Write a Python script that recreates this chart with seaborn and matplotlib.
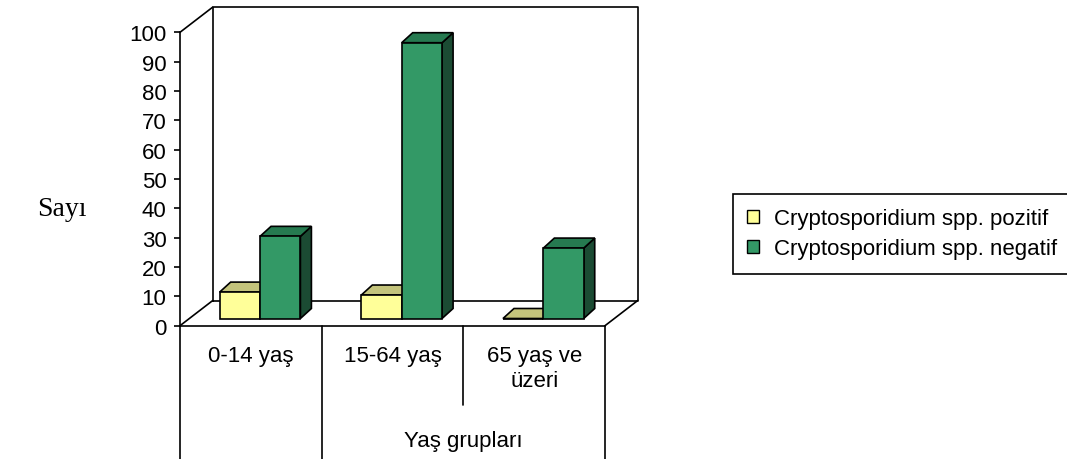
import matplotlib
matplotlib.use("Agg")
import numpy as np
import pandas as pd
import matplotlib.pyplot as plt
import matplotlib.transforms as mtransforms
from matplotlib.patches import Polygon, Patch
import seaborn as sns

# ---- data -------------------------------------------------------------
categories = ["0-14 yaş", "15-64 yaş", "65 yaş ve\nüzeri"]
series_names = ["Cryptosporidium spp. pozitif", "Cryptosporidium spp. negatif"]
pozitif = [9, 8, 0]
negatif = [28, 94, 24]
y_ticks = list(range(0, 101, 10))
x_title = "Yaş grupları"
y_title = "Sayı"

# ---- colours: front, top and side faces of the 3-D columns --------------
front_colors = ["#FFFF99", "#339966"]
top_colors = ["#C4C47C", "#267A50"]
side_colors = ["#8C8C5A", "#1B4B33"]

df = pd.DataFrame({
    "Yaş grubu": categories * 2,
    "Sayı": pozitif + negatif,
    "Seri": [series_names[0]] * len(categories) + [series_names[1]] * len(categories),
})

sns.set_style("white")
plt.rcParams["font.family"] = ["Liberation Sans", "DejaVu Sans"]
plt.rcParams.update({"text.color": "black", "axes.labelcolor": "black",
                     "xtick.color": "black", "ytick.color": "black"})
FS = 16
LW = 1.2

W, H, DPI = 1067, 460, 100
fig = plt.figure(figsize=(W / DPI, H / DPI), dpi=DPI)
fig.patch.set_facecolor("white")

# front plane of the chart box (figure pixels, measured from the top)
left_px, right_px, base_px, top_px = 180, 605, 326.7, 33.3
ax = fig.add_axes([left_px / W, (H - base_px) / H,
                   (right_px - left_px) / W, (base_px - top_px) / H])

sns.barplot(data=df, x="Yaş grubu", y="Sayı", hue="Seri",
            order=categories, hue_order=series_names,
            palette=front_colors, saturation=1, width=0.57,
            edgecolor="black", linewidth=LW, legend=False, ax=ax)

ax.set_xlim(-0.5, len(categories) - 0.5)
ax.set_ylim(y_ticks[0], y_ticks[-1])
ax.set_facecolor("white")


def px_to_data(dx, dy):
    """Convert a pixel offset into a data-space offset."""
    inv = ax.transData.inverted()
    p0 = inv.transform((0.0, 0.0))
    p1 = inv.transform((dx, dy))
    return p1 - p0


# columns stand a little behind the front edge of the floor
bar_shift = mtransforms.ScaledTranslation(9.2 / DPI, 7.2 / DPI, fig.dpi_scale_trans)
bar_trans = ax.transData + bar_shift
ddx, ddy = px_to_data(11, 10)          # column depth

for k, cont in enumerate(ax.containers):
    z = 2 + k
    for bar in cont:
        bar.set_transform(bar_trans)
        bar.set_clip_on(False)
        bar.set_zorder(z + 0.2)
        xl, yb = bar.get_x(), bar.get_y()
        xr, yt = xl + bar.get_width(), yb + bar.get_height()
        top = Polygon([(xl, yt), (xr, yt), (xr + ddx, yt + ddy), (xl + ddx, yt + ddy)],
                      closed=True, facecolor=top_colors[k], edgecolor="black",
                      linewidth=LW, transform=bar_trans, clip_on=False, zorder=z)
        side = Polygon([(xr, yb), (xr, yt), (xr + ddx, yt + ddy), (xr + ddx, yb + ddy)],
                       closed=True, facecolor=side_colors[k], edgecolor="black",
                       linewidth=LW, transform=bar_trans, clip_on=False, zorder=z)
        ax.add_patch(side)
        ax.add_patch(top)

# ---- walls and floor ------------------------------------------------------
wx, wy = px_to_data(32.5, 25)
x0, x1 = ax.get_xlim()
y0, y1 = ax.get_ylim()
wall_kw = dict(color="black", lw=LW, clip_on=False, zorder=0.5,
               solid_capstyle="projecting")
ax.plot([x0 + wx, x1 + wx, x1 + wx, x0 + wx, x0 + wx],
        [y0 + wy, y0 + wy, y1 + wy, y1 + wy, y0 + wy], **wall_kw)
ax.plot([x0, x0 + wx], [y1, y1 + wy], **wall_kw)
ax.plot([x0, x0 + wx], [y0, y0 + wy], **wall_kw)
ax.plot([x1, x1 + wx], [y0, y0 + wy], **wall_kw)

for s in ["top", "right"]:
    ax.spines[s].set_visible(False)
for s in ["left", "bottom"]:
    ax.spines[s].set_color("black")
    ax.spines[s].set_linewidth(LW)
    ax.spines[s].set_zorder(0.6)

# ---- category table below the floor --------------------------------------
axes_h_px = base_px - top_px
fig_bottom = -(H - base_px) / axes_h_px
mid_end = -(406 - base_px) / axes_h_px
edges = np.arange(len(categories) + 1) - 0.5
blend = mtransforms.blended_transform_factory(ax.transData, ax.transAxes)
for i, e in enumerate(edges):
    ax.plot([e, e], [0, mid_end if i == 2 else fig_bottom], color="black",
            lw=LW, transform=blend, clip_on=False, zorder=0.6)

ax.set_xticks(range(len(categories)))
ax.set_xticklabels(categories, fontsize=FS)
for lbl in ax.get_xticklabels():
    lbl.set_linespacing(1.25)
ax.tick_params(axis="x", length=0, pad=14, colors="black")

ax.set_yticks(y_ticks)
ax.set_yticklabels([str(v) for v in y_ticks], fontsize=FS)
ax.tick_params(axis="y", left=True, length=4.3, width=LW, direction="out",
               pad=5.5, colors="black")
ax.grid(False)

ax.set_xlabel(x_title, fontsize=FS, va="center")
ax.xaxis.set_label_coords((1.5 - x0) / (x1 - x0), (H - 441 - (H - base_px)) / axes_h_px)
ax.set_ylabel(y_title, rotation=0, fontsize=20, ha="center", va="center",
              family=["Liberation Serif", "DejaVu Serif"])
ax.yaxis.set_label_coords((62 - left_px) / (right_px - left_px), (base_px - 210) / axes_h_px)

# ---- legend ----------------------------------------------------------------
handles = [Patch(facecolor=c, edgecolor="black", linewidth=1.0) for c in front_colors]
leg = fig.legend(handles, series_names, loc="upper left",
                 bbox_to_anchor=(733 / W, 1 - 195 / H), bbox_transform=fig.transFigure,
                 fontsize=FS, frameon=True, fancybox=False, framealpha=1,
                 edgecolor="black", handlelength=0.5, handleheight=0.5,
                 handletextpad=0.7, borderpad=0.65, labelspacing=0.4,
                 borderaxespad=0)
leg.get_frame().set_linewidth(LW)

fig.savefig("out.png", dpi=DPI, facecolor="white")
